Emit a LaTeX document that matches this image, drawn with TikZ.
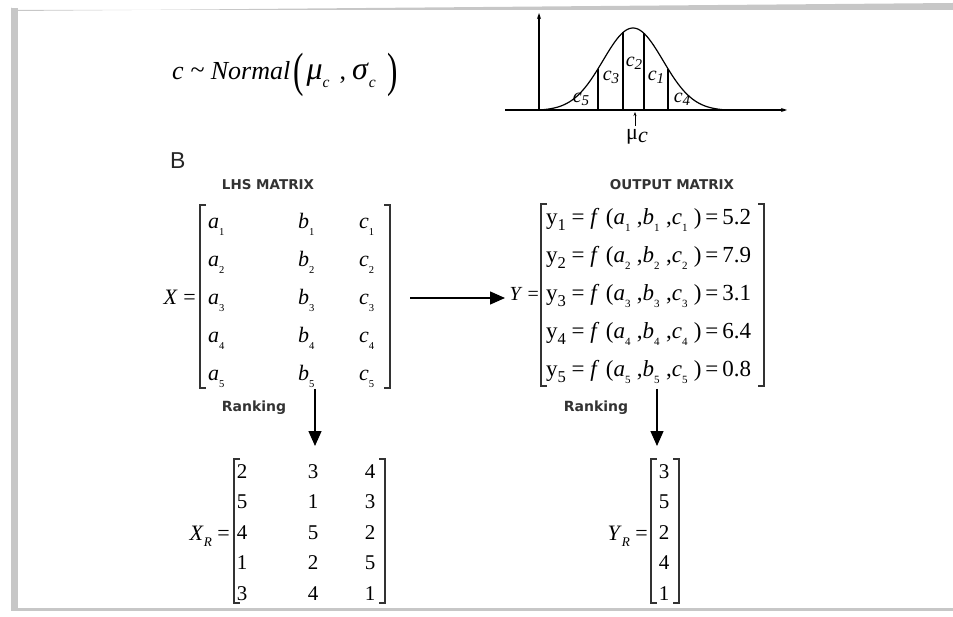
\documentclass[tikz,border=0pt]{standalone}
\usepackage{fontspec}
\usepackage{graphicx}
\setmainfont{Liberation Serif}
\newfontfamily\lblfont{DejaVu Sans}
\newfontfamily\bfont{Liberation Sans}
\usetikzlibrary{arrows.meta}
\newcommand{\subs}[1]{\raisebox{-0.28em}{\scalebox{0.48}{#1}}}
\newcommand{\subsR}[1]{\raisebox{-0.3em}{\scalebox{0.6}{#1}}}
\newcommand{\subsY}[1]{\raisebox{-0.22em}{\scalebox{0.72}{#1}}}
\newcommand{\yrow}[2]{y\subsY{#1} = \textit{f}\;(\textit{a}\subs{#1}\;,\textit{b}\subs{#1}\;,\textit{c}\subs{#1}\;)\,=\,#2}
\newcommand{\bigpar}[1]{\raisebox{-0.26em}{\scalebox{1.2}[1.85]{#1}}}
\begin{document}
\begin{tikzpicture}[x=1pt,y=-1pt,
  framec/.style={fill=black!22, draw=none},
  brk/.style={line width=1.4pt, draw=black!80},
  ent/.style={font=\fontsize{22}{22}\selectfont, inner sep=0pt, anchor=base},
  yent/.style={font=\fontsize{23}{23}\selectfont, inner sep=0pt, anchor=base west},
  num/.style={font=\fontsize{21}{21}\selectfont, inner sep=0pt, anchor=base},
  lbl/.style={font=\lblfont\bfseries\fontsize{13.5}{13.5}\selectfont, text=black!80, inner sep=0pt},
  arr/.style={line width=1.4pt, -{Triangle[length=15pt,width=13pt]}},
  axis/.style={line width=1.2pt, -{Stealth[length=6pt,width=4pt]}},
  cl/.style={font=\fontsize{20}{20}\selectfont\itshape, inner sep=0pt}
]
\useasboundingbox (0,0) rectangle (953,617);
% frame
\fill[framec] (11,10) -- (11,7) arc[start angle=180,end angle=90,radius=4] -- (953,3) -- (953,10) -- cycle;
\fill[framec] (11,8) rectangle (18,611);
\fill[framec] (11,608) rectangle (953,611);

% top formula
\node[anchor=base west, inner sep=0pt] (frm) at (172,80) {\fontsize{26}{26}\selectfont
  \textit{c}\hspace{7pt}\raisebox{0.05em}{\textasciitilde}\hspace{6pt}\textit{Normal}\hspace{3pt}\bigpar{(}\hspace{3pt}{\fontsize{32}{32}\selectfont\textit{μ}}\subsR{\textit{c}}\hspace{10pt},\hspace{6pt}{\fontsize{32}{32}\selectfont\textit{σ}}\subsR{\textit{c}}\hspace{12pt}\bigpar{)}};

% bell curve
\coordinate (o) at (539,110);
\coordinate (ytop) at (539,13);
\coordinate (xl) at (505,110);
\coordinate (xr) at (787,110);
\draw[axis] (o) -- (ytop);
\draw[line width=1.2pt] (xl) -- (o);
\draw[axis] (o) -- (xr);
\draw[line width=1.2pt] plot[domain=-94:94, samples=90, smooth] ({633+\x},{110-82*(exp(-(\x*\x)/1800)-0.0074)/0.9926});
\foreach \t in {-35,-10,11,35}
  \draw[line width=1.2pt] ({633+\t},110) -- ({633+\t},{110-82*(exp(-(\t*\t)/1800)-0.0074)/0.9926});
\node[cl] (c5) at (581,99) {c\raisebox{-3pt}{\fontsize{15}{15}\selectfont 5}};
\node[cl] (c3) at (611,77) {c\raisebox{-3pt}{\fontsize{15}{15}\selectfont 3}};
\node[cl] (c2) at (634,63) {c\raisebox{-3pt}{\fontsize{15}{15}\selectfont 2}};
\node[cl] (c1) at (656,77) {c\raisebox{-3pt}{\fontsize{15}{15}\selectfont 1}};
\node[cl] (c4) at (682,99) {c\raisebox{-3pt}{\fontsize{15}{15}\selectfont 4}};
\coordinate (mub) at (635,126);
\coordinate (mut) at (635,112);
\draw[line width=0.9pt, -{Stealth[length=4pt,width=3pt]}] (mub) -- (mut);
\node[inner sep=0pt, font=\fontsize{22}{22}\selectfont] (mu) at (637,137) {μ\raisebox{-3pt}{\textit{c}}};

% B
\node[anchor=base west, inner sep=0pt, font=\bfont\fontsize{23}{23}\selectfont, text=black!85] (B) at (170,169) {B};

% LHS matrix
\node[lbl] (lhs) at (268,185) {LHS MATRIX};
\node[ent, anchor=base east] (Xeq) at (196,305) {\textit{X} =};
\foreach \i in {1,...,5} {
  \node[ent, anchor=base west] (xa\i) at (208,{191+38*\i}) {\textit{a}\subs{\i}};
  \node[ent, anchor=base west] (xb\i) at (298,{191+38*\i}) {\textit{b}\subs{\i}};
  \node[ent, anchor=base west] (xc\i) at (359,{191+38*\i}) {\textit{c}\subs{\i}};
}
\draw[brk] (206,205) -- (200,205) -- (200,388) -- (206,388);
\draw[brk] (384,205) -- (390,205) -- (390,388) -- (384,388);

% arrow to output
\coordinate (h1) at (410,298);
\coordinate (h2) at (505,298);
\draw[arr] (h1) -- (h2);

% Output matrix
\node[lbl] (out) at (672,185) {OUTPUT MATRIX};
\node[ent, anchor=base east, font=\fontsize{20}{20}\selectfont] (Yeq) at (539,301) {\textit{Y} =};
\node[yent] (y1) at (546,225) {\yrow{1}{5.2}};
\node[yent] (y2) at (546,263) {\yrow{2}{7.9}};
\node[yent] (y3) at (546,301) {\yrow{3}{3.1}};
\node[yent] (y4) at (546,339) {\yrow{4}{6.4}};
\node[yent] (y5) at (546,377) {\yrow{5}{0.8}};
\draw[brk] (547,204) -- (541,204) -- (541,386) -- (547,386);
\draw[brk] (758,204) -- (764,204) -- (764,386) -- (758,386);

% ranking arrows
\node[lbl, font=\lblfont\bfseries\fontsize{14}{14}\selectfont] (rk1) at (254,408) {Ranking};
\node[lbl, font=\lblfont\bfseries\fontsize{14}{14}\selectfont] (rk2) at (596,408) {Ranking};
\coordinate (v1a) at (315,389);
\coordinate (v1b) at (315,446);
\coordinate (v2a) at (657,389);
\coordinate (v2b) at (657,446);
\draw[arr] (v1a) -- (v1b);
\draw[arr] (v2a) -- (v2b);

% X_R
\node[ent, anchor=base east] (XReq) at (230,540) {\textit{X}\subsR{\textit{R}} =};
\foreach \a/\b/\c [count=\i] in {2/3/4,5/1/3,4/5/2,1/2/5,3/4/1} {
  \node[num] (r\i a) at (242,{447.5+30.5*\i}) {\a};
  \node[num] (r\i b) at (313,{447.5+30.5*\i}) {\b};
  \node[num] (r\i c) at (370,{447.5+30.5*\i}) {\c};
}
\draw[brk] (240,459) -- (234,459) -- (234,603) -- (240,603);
\draw[brk] (379,459) -- (385,459) -- (385,603) -- (379,603);

% Y_R
\node[ent, anchor=base east] (YReq) at (648,540) {\textit{Y}\subsR{\textit{R}} =};
\foreach \v [count=\i] in {3,5,2,4,1}
  \node[num] (yr\i) at (664,{447.5+30.5*\i}) {\v};
\draw[brk] (657,459) -- (651,459) -- (651,603) -- (657,603);
\draw[brk] (673,459) -- (679,459) -- (679,603) -- (673,603);
\end{tikzpicture}
\end{document}
